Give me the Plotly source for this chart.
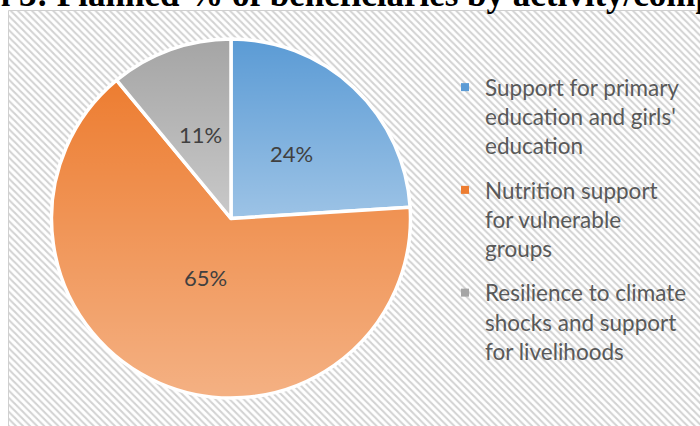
import base64
import math

import plotly.graph_objects as go

# ---- data -------------------------------------------------------------
categories = [
    "Support for primary<br>education and girls'<br>education",
    "Nutrition support<br>for vulnerable<br>groups",
    "Resilience to climate<br>shocks and support<br>for livelihoods",
]
shares = [24, 65, 11]
slice_colors = ["#5B9BD5", "#ED7D31", "#A5A5A5"]
title_text = "Graph 3: Planned % of beneficiaries by activity/component"

# ---- geometry / style -------------------------------------------------
W, H = 700, 426
CX, CY, R = 231.0, 218.5, 179.5        # pie centre and radius (page px)
label_radius = [0.495, 0.357, 0.495]   # label distance from centre, as fraction of R
LABEL_FONT = "Lato"

total = float(sum(shares))
bounds = []
acc = 0.0
for v in shares:
    a0 = acc / total * 360.0
    acc += v
    bounds.append((a0, acc / total * 360.0))


def polar(theta_deg, rad, cx, cy):
    t = math.radians(theta_deg)
    return cx + rad * math.sin(t), cy - rad * math.cos(t)


# Vertical white-tint gradient over each slice (darker at the top of the
# slice, lighter at its bottom), built as an SVG overlay.
defs, paths = [], []
for i, (a0, a1) in enumerate(bounds):
    x0, y0 = polar(a0, R, R, R)
    x1, y1 = polar(a1, R, R, R)
    ys = [R, y0, y1]
    for ext, yv in ((0.0, 0.0), (180.0, 2 * R), (360.0, 0.0)):
        if a0 <= ext <= a1:
            ys.append(yv)
    top, bot = min(ys), max(ys)
    large = 1 if (a1 - a0) > 180 else 0
    defs.append(
        f'<linearGradient id="g{i}" gradientUnits="userSpaceOnUse" '
        f'x1="0" y1="{top:.2f}" x2="0" y2="{bot:.2f}">'
        f'<stop offset="0" stop-color="#ffffff" stop-opacity="0"/>'
        f'<stop offset="1" stop-color="#ffffff" stop-opacity="0.4"/>'
        f"</linearGradient>"
    )
    paths.append(
        f'<path d="M{R:.2f},{R:.2f} L{x0:.2f},{y0:.2f} '
        f'A{R:.2f},{R:.2f} 0 {large} 1 {x1:.2f},{y1:.2f} Z" fill="url(#g{i})"/>'
    )
size = 2 * R
svg = (
    f'<svg xmlns="http://www.w3.org/2000/svg" width="{size:.1f}" height="{size:.1f}" '
    f'viewBox="0 0 {size:.2f} {size:.2f}"><defs>{"".join(defs)}</defs>{"".join(paths)}</svg>'
)
shade_uri = "data:image/svg+xml;base64," + base64.b64encode(svg.encode()).decode()

fig = go.Figure()

# hatched chart-area background
fig.add_trace(
    go.Scatter(
        x=[9, W + 5, W + 5, 9, 9],
        y=[11, 11, H + 5, H + 5, 11],
        mode="lines",
        line=dict(width=0),
        fill="toself",
        fillpattern=dict(shape="\\", fgcolor="#d2d2d2", bgcolor="#ffffff",
                         size=5, solidity=0.4, fillmode="replace"),
        hoverinfo="skip",
        showlegend=False,
    )
)

# legend entries
for i, (name, col) in enumerate(zip(categories, slice_colors)):
    fig.add_trace(
        go.Scatter(
            x=[None], y=[None], mode="markers", name=name, legendgroup=f"g{i}",
            marker=dict(symbol="square", size=8, color=col, line=dict(width=0)),
        )
    )

fig.add_trace(
    go.Pie(
        values=shares,
        labels=[c.replace("<br>", " ") for c in categories],
        marker=dict(colors=slice_colors, line=dict(color="white", width=3.5)),
        sort=False,
        direction="clockwise",
        rotation=0,
        textinfo="none",
        hoverinfo="label+percent",
        showlegend=False,
        domain=dict(x=[(CX - R) / W, (CX + R) / W], y=[(H - CY - R) / H, (H - CY + R) / H]),
    )
)

annotations = []
for (a0, a1), v, rf in zip(bounds, shares, label_radius):
    lx, ly = polar((a0 + a1) / 2, rf * R, CX, CY)
    annotations.append(
        dict(
            x=lx, y=ly, xref="x", yref="y", text=f"{round(v / total * 100)}%",
            showarrow=False, xanchor="center", yanchor="middle",
            font=dict(family=LABEL_FONT, size=22, color="#404040"),
        )
    )

annotations.append(
    dict(
        x=0.5 + 5 / W, y=1 + 27 / H, xref="paper", yref="paper", text=f"<b>{title_text}</b>",
        showarrow=False, xanchor="center", yanchor="top",
        font=dict(family="Liberation Serif", size=35, color="#000000"),
    )
)

fig.update_layout(
    width=W,
    height=H,
    margin=dict(l=0, r=0, t=0, b=0),
    paper_bgcolor="white",
    plot_bgcolor="white",
    xaxis=dict(range=[0, W], visible=False, fixedrange=True),
    yaxis=dict(range=[H, 0], visible=False, fixedrange=True),
    showlegend=True,
    legend=dict(
        x=(485 - 40) / W, y=1 - 66 / H, xanchor="left", yanchor="top",
        bgcolor="rgba(0,0,0,0)", borderwidth=0,
        font=dict(family=LABEL_FONT, size=22.5, color="#595959"),
        traceorder="grouped", tracegroupgap=12, valign="top",
    ),
    annotations=annotations,
    shapes=[
        dict(type="rect", xref="x", yref="y", x0=8.5, y0=10.5, x1=W + 5, y1=H + 5,
             line=dict(color="#d0d0d0", width=1), layer="above")
    ],
    images=[
        dict(source=shade_uri, xref="paper", yref="paper",
             x=(CX - R) / W, y=(H - (CY - R)) / H, sizex=2 * R / W, sizey=2 * R / H,
             xanchor="left", yanchor="top", sizing="stretch", layer="above")
    ],
)

fig.write_html("out.html")
